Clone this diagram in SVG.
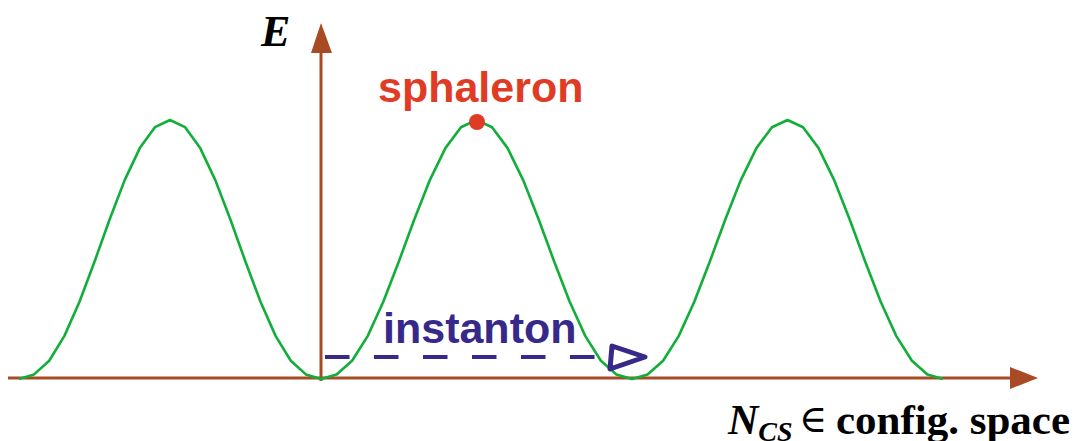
<svg xmlns="http://www.w3.org/2000/svg" width="1077" height="441" viewBox="0 0 1077 441">
<style>
.axis{stroke:#a84b25;stroke-width:3;fill:none}
.axhead{fill:#a84b25}
.curve{stroke:#12ae3a;stroke-width:2.6;fill:none;stroke-linejoin:round}
.lbl-sans{font-family:"Liberation Sans",Arial,sans-serif;font-weight:bold;font-size:43px}
.lbl-serif{font-family:"Liberation Serif","Times New Roman",serif;font-weight:bold}
.lbl-sym{font-family:"Liberation Serif","DejaVu Serif",serif;font-weight:normal;font-size:38px}
</style>
<rect width="1077" height="441" fill="#ffffff"/>
<g id="axes">
<line class="axis" x1="8" y1="378" x2="1012" y2="378"/>
<polygon class="axhead" points="1010,367 1038,378 1010,389"/>
<line class="axis" x1="321" y1="381" x2="321" y2="50"/>
<polygon class="axhead" points="311,53 321,23 332,53"/>
</g>
<g id="potential">
<polyline class="curve" points="19,379 34.1,374.4 49.2,360.7 64.3,336.1 79.4,302 94.5,261.7 109.6,219.5 124.7,180.1 139.8,148.1 154.9,127.2 170,120 185.1,127.2 200.2,148.1 215.3,180.1 230.4,219.5 245.5,261.7 260.6,302 275.7,336.1 290.8,360.7 305.9,374.4 321,379 336.55,374.4 352.1,360.7 367.65,336.1 383.2,302 398.75,261.7 414.3,219.5 429.85,180.1 445.4,148.1 460.95,127.2 476.5,120 492.05,127.2 507.6,148.1 523.15,180.1 538.7,219.5 554.25,261.7 569.8,302 585.35,336.1 600.9,360.7 616.45,374.4 632,379 647.55,374.4 663.1,360.7 678.65,336.1 694.2,302 709.75,261.7 725.3,219.5 740.85,180.1 756.4,148.1 771.95,127.2 787.5,120 803.05,127.2 818.6,148.1 834.15,180.1 849.7,219.5 865.25,261.7 880.8,302 896.35,336.1 911.9,360.7 927.45,374.4 943,379"/>
</g>
<g id="sphaleron">
<circle cx="477" cy="122" r="8" fill="#e03c25"/>
<text class="lbl-sans" x="378" y="102" fill="#e03c25">sphaleron</text>
</g>
<g id="instanton">
<text class="lbl-sans" x="383" y="343" fill="#36298a">instanton</text>
<line x1="325" y1="357" x2="600" y2="357" stroke="#36298a" stroke-width="4" stroke-dasharray="24.5 24.5"/>
<polygon points="612,346 645,357 610,369" fill="none" stroke="#36298a" stroke-width="5" stroke-linejoin="round"/>
</g>
<g id="labels">
<text class="lbl-serif" x="261" y="46" font-size="44" font-style="italic">E</text>
<text class="lbl-serif" x="728" y="434" font-size="42" font-style="italic">N<tspan font-size="28" dy="7">CS</tspan></text>
<text class="lbl-sym" x="799" y="432">∈</text>
<text class="lbl-serif" x="1070" y="434" font-size="43" text-anchor="end">config. space</text>
</g>
</svg>
